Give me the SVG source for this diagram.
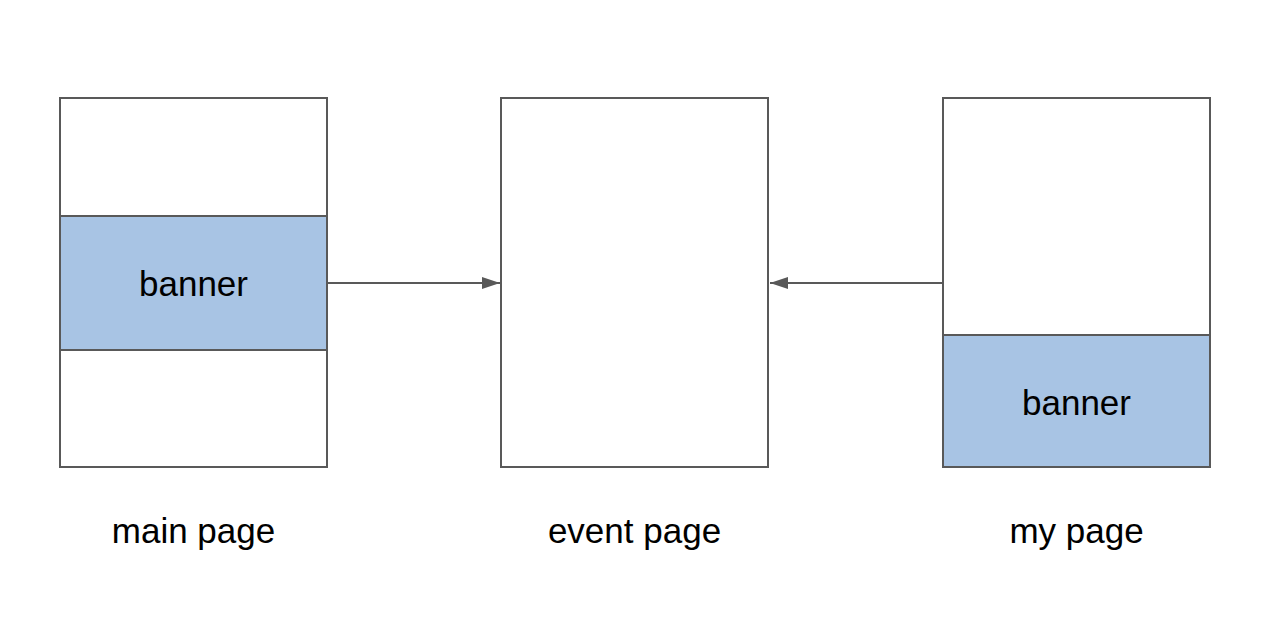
<svg xmlns="http://www.w3.org/2000/svg" width="1280" height="633" viewBox="0 0 1280 633">
<defs>
<style>
.box{fill:#ffffff;stroke:#595959;stroke-width:2}
.ban{fill:#a8c4e4;stroke:#595959;stroke-width:2}
.t{font-family:"Liberation Sans",Arial,sans-serif;font-size:35px;fill:#000;text-anchor:middle}
.c{stroke:#595959;stroke-width:2;fill:none}
</style>
<marker id="ah" markerWidth="9" markerHeight="6" refX="9" refY="3" orient="auto" markerUnits="strokeWidth">
<path d="M0,0 L9,3 L0,6 Z" fill="#595959"/>
</marker>
</defs>
<rect width="1280" height="633" fill="#ffffff"/>
<g id="main-page">
<rect class="box" x="60" y="98" width="267" height="369"/>
<rect class="ban" x="60" y="216" width="267" height="134"/>
<text class="t" x="193.5" y="296">banner</text>
<text class="t" x="193.5" y="543">main page</text>
</g>
<g id="event-page">
<rect class="box" x="501" y="98" width="267" height="369"/>
<text class="t" x="634.5" y="543">event page</text>
</g>
<g id="my-page">
<rect class="box" x="943" y="98" width="267" height="369"/>
<rect class="ban" x="943" y="335" width="267" height="132"/>
<text class="t" x="1076.5" y="415">banner</text>
<text class="t" x="1076.5" y="543">my page</text>
</g>
<g id="connectors">
<line class="c" x1="328" y1="283" x2="500" y2="283" marker-end="url(#ah)"/>
<line class="c" x1="942" y1="283" x2="770" y2="283" marker-end="url(#ah)"/>
</g>
</svg>
